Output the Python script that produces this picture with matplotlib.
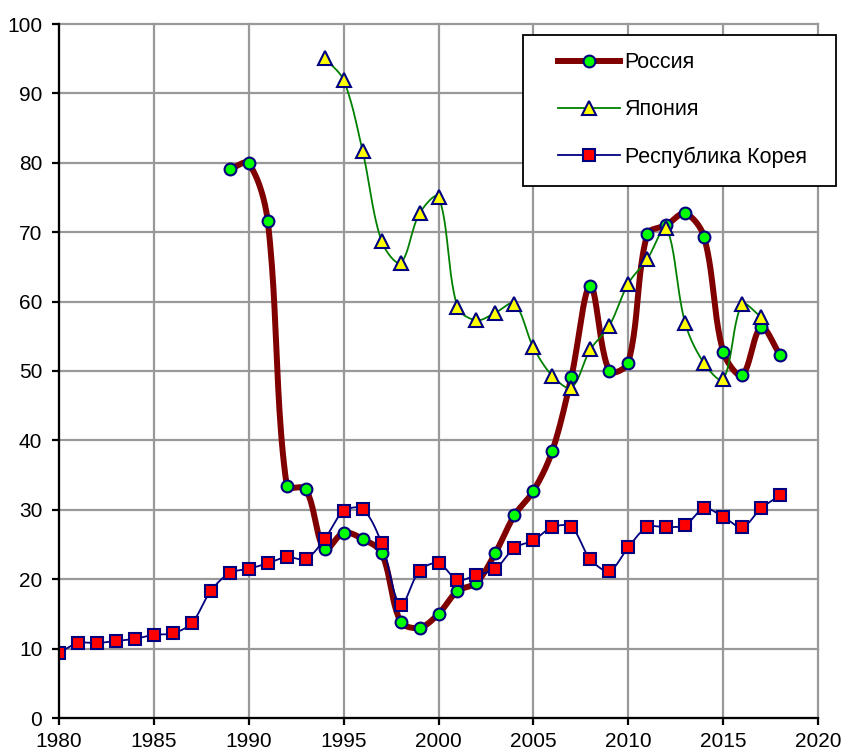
import numpy as np
import matplotlib
matplotlib.use("Agg")
import matplotlib.pyplot as plt
from matplotlib.lines import Line2D
from matplotlib.patches import Rectangle

plt.rcParams['font.family'] = ['Liberation Sans', 'DejaVu Sans']

# данные
years_ru = list(range(1989, 2019))
russia = [79.1, 79.9, 71.6, 33.5, 33.0, 24.3, 26.7, 25.8, 23.8, 13.9,
          13.0, 15.0, 18.3, 19.5, 23.8, 29.2, 32.7, 38.5, 49.1, 62.3,
          50.0, 51.2, 69.7, 71.0, 72.7, 69.3, 52.8, 49.4, 56.3, 52.3]

years_jp = list(range(1994, 2018))
japan = [95.1, 91.9, 81.7, 68.7, 65.6, 72.7, 75.1, 59.2, 57.3, 58.4,
         59.7, 53.4, 49.3, 47.6, 53.1, 56.5, 62.6, 66.1, 70.6, 56.9,
         51.1, 48.8, 59.6, 57.8]

years_kr = list(range(1980, 2019))
korea = [9.4, 10.8, 10.8, 11.1, 11.4, 12.0, 12.2, 13.7, 18.3, 20.9,
         21.5, 22.3, 23.2, 22.9, 25.8, 29.8, 30.1, 25.2, 16.3, 21.2,
         22.3, 19.9, 20.6, 21.5, 24.5, 25.6, 27.5, 27.5, 22.9, 21.2,
         24.6, 27.5, 27.5, 27.8, 30.2, 29.0, 27.5, 30.2, 32.1]

# масштаб осей в пикселях (для сглаживания как в Excel)
PX_X = 759 / 40.0
PX_Y = 694 / 100.0


def smooth(x, y, n=24, k=1 / 3):
    # сглаженная линия: Безье, касательная по соседям, длина по хордам
    p = np.column_stack([np.asarray(x, float) * PX_X, np.asarray(y, float) * PX_Y])
    m = len(p)
    out = [p[0]]
    t = np.linspace(0, 1, n + 1)[1:][:, None]
    for i in range(m - 1):
        a, b = p[i], p[i + 1]
        pa = p[i - 1] if i > 0 else a
        nb = p[i + 2] if i + 2 < m else b
        d_ab = np.hypot(*(b - a))
        d_pa = np.hypot(*(a - pa))
        d_bn = np.hypot(*(nb - b))
        c1 = a + (b - pa) * k * d_ab / (d_pa + d_ab)
        c2 = b - (nb - a) * k * d_ab / (d_ab + d_bn)
        seg = (1 - t) ** 3 * a + 3 * (1 - t) ** 2 * t * c1 + 3 * (1 - t) * t ** 2 * c2 + t ** 3 * b
        out.extend(seg)
    out = np.array(out)
    return out[:, 0] / PX_X, out[:, 1] / PX_Y


fig = plt.figure(figsize=(8.42, 7.54), dpi=100)
ax = fig.add_axes([59 / 842, 1 - 718 / 754, (818 - 59) / 842, (718 - 24) / 754])

navy = '#000080'
series = [
    (years_ru, russia, '#800000', 4.3, 'o', '#00ff00', 8.5, 'Россия'),
    (years_jp, japan, '#008000', 1.3, '^', '#ffff00', 10, 'Япония'),
    (years_kr, korea, navy, 1.3, 's', '#ff0000', 8.5, 'Республика Корея'),
]

handles = []
for xs, ys, col, lw, mk, fc, ms, lab in series:
    sx, sy = smooth(xs, ys)
    ax.plot(sx, sy, color=col, lw=lw, solid_capstyle='round', zorder=3)
    ax.plot(xs, ys, ls='none', marker=mk, ms=ms, mfc=fc, mec=navy, mew=1.5, zorder=4)
    handles.append(Line2D([], [], color=col, lw=lw, marker=mk, ms=ms, mfc=fc,
                          mec=navy, mew=1.5, label=lab))

ax.set_xlim(1980, 2020)
ax.set_ylim(0, 100)
ax.set_xticks(range(1980, 2021, 5))
ax.set_yticks(range(0, 101, 10))
ax.grid(True, color='#999999', lw=1.6)
for gl in ax.get_xgridlines() + ax.get_ygridlines():
    gl.set_clip_on(False)
ax.set_axisbelow(True)
for s in ['top', 'right']:
    ax.spines[s].set_visible(False)
for s in ['left', 'bottom']:
    ax.spines[s].set_linewidth(1.6)
    ax.spines[s].set_zorder(5)
ax.tick_params(labelsize=15, width=1.6, length=5, direction='out')
ax.tick_params(axis='y', pad=7)
ax.tick_params(axis='x', pad=5)

# рамка легенды отдельно, чтобы точно встала на место
fig.patches.append(Rectangle((523 / 842, 1 - 186 / 754), (836 - 523) / 842, (186 - 35) / 754,
                             transform=fig.transFigure, facecolor='white', edgecolor='black',
                             lw=1.3, zorder=9))
leg = fig.legend(handles=handles, loc='center left', bbox_to_anchor=(558 / 842, 1 - 110 / 754),
                 bbox_transform=fig.transFigure, borderaxespad=0, borderpad=0, fontsize=15.5,
                 frameon=False, handlelength=2.9, labelspacing=1.22, handletextpad=0.2)
leg.set_zorder(10)

fig.savefig('out.png', dpi=100)
